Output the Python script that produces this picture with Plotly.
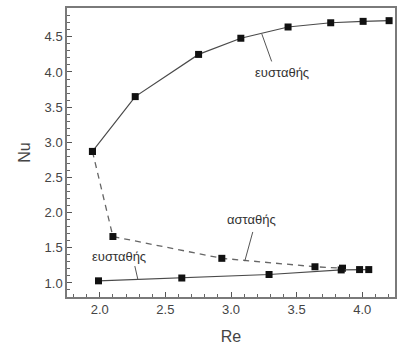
import plotly.graph_objects as go

# Upper stable branch
re_upper = [1.944, 2.27, 2.753, 3.075, 3.435, 3.76, 4.007, 4.205]
nu_upper = [2.87, 3.65, 4.25, 4.48, 4.64, 4.70, 4.72, 4.73]

# Unstable branch (dashed)
re_unstable = [1.944, 2.10, 2.93, 3.64, 3.85]
nu_unstable = [2.87, 1.66, 1.35, 1.23, 1.21]

# Lower stable branch
re_lower = [1.99, 2.625, 3.29, 3.84, 3.98, 4.05]
nu_lower = [1.03, 1.07, 1.12, 1.185, 1.19, 1.19]

x_ticks = [2.0, 2.5, 3.0, 3.5, 4.0]
y_ticks = [1.0, 1.5, 2.0, 2.5, 3.0, 3.5, 4.0, 4.5]

line_col = "#4a4a4a"
marker = dict(symbol="square", size=7, color="#111111")
font_family = "Liberation Sans, Arial, sans-serif"

fig = go.Figure()
fig.add_trace(go.Scatter(x=re_upper, y=nu_upper, mode="lines+markers",
                         line=dict(color=line_col, width=1.2), marker=marker))
fig.add_trace(go.Scatter(x=re_unstable, y=nu_unstable, mode="lines+markers",
                         line=dict(color="#666666", width=1.3, dash="6px,5px"),
                         marker=marker))
fig.add_trace(go.Scatter(x=re_lower, y=nu_lower, mode="lines+markers",
                         line=dict(color=line_col, width=1.2), marker=marker))

# Branch labels with leader lines: (text, text x, text y, line from, line to)
labels = [
    ("ευσταθής", 3.39, 3.99, (3.235, 4.54), (3.31, 4.15)),
    ("ασταθής", 3.16, 1.90, (3.105, 1.31), (3.166, 1.725)),
    ("ευσταθής", 2.15, 1.37, (2.29, 1.05), (2.267, 1.24)),
]
for text, tx, ty, p0, p1 in labels:
    fig.add_annotation(x=tx, y=ty, text=text, showarrow=False,
                       font=dict(family=font_family, size=13, color="#333333"))
    fig.add_shape(type="line", x0=p0[0], y0=p0[1], x1=p1[0], y1=p1[1],
                  line=dict(color="#555555", width=1))

axis_common = dict(
    showgrid=False, zeroline=False, automargin=False,
    showline=True, linecolor="#7a7a7a", linewidth=1.5, mirror=True,
    ticks="inside", ticklen=5, tickwidth=1, tickcolor="#555555",
    tickfont=dict(family=font_family, size=13, color="#444444"),
    minor=dict(ticks="inside", ticklen=3, tickwidth=1, tickcolor="#666666", dtick=0.1),
)

fig.update_xaxes(range=[1.75, 4.25], tickvals=x_ticks,
                 ticktext=[f"{v:.1f}" for v in x_ticks],
                 title=dict(text="Re", font=dict(family=font_family, size=16, color="#444444"),
                            standoff=18),
                 **axis_common)
fig.update_yaxes(range=[0.8, 4.91], tickvals=y_ticks,
                 ticktext=[f"{v:.1f}" for v in y_ticks],
                 title=dict(text="Nu", font=dict(family=font_family, size=16, color="#444444"),
                            standoff=10),
                 **axis_common)

fig.update_layout(
    width=399, height=345,
    margin=dict(l=67, r=4, t=8, b=48),
    plot_bgcolor="white", paper_bgcolor="white",
    showlegend=False,
)

fig.write_html("out.html")
